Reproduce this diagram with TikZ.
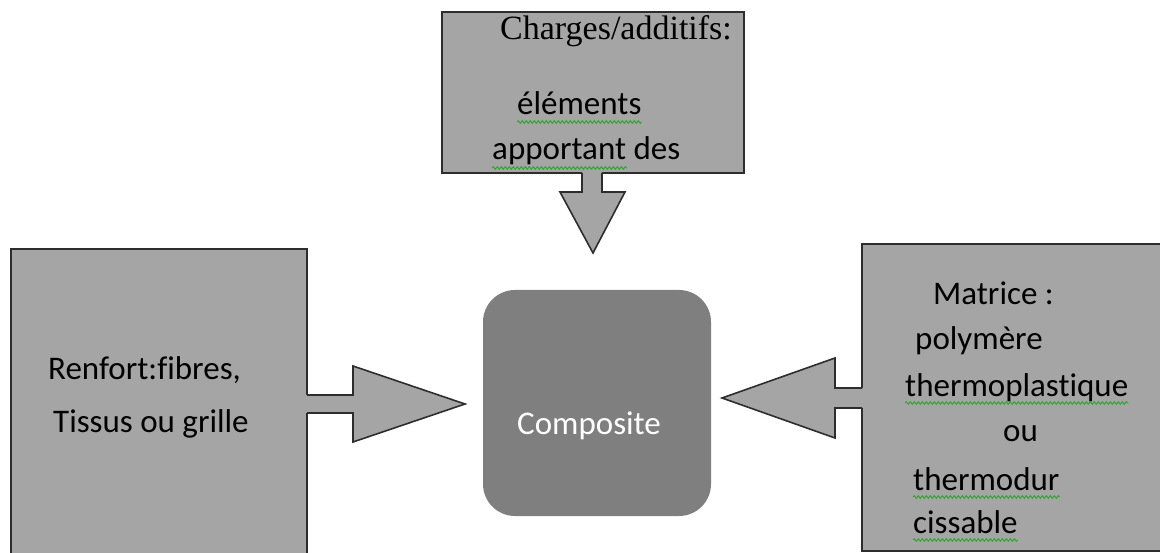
\documentclass[tikz,border=0pt]{standalone}
\usepackage{fontspec}
\setmainfont[Ligatures={NoCommon,NoContextual}]{Carlito}
\newfontfamily\timesfont{Liberation Serif}
\usetikzlibrary{decorations.pathmorphing}

\definecolor{boxgray}{RGB}{165,165,165}
\definecolor{coregray}{RGB}{127,127,127}
\definecolor{edgegray}{RGB}{45,45,45}
\definecolor{spellgreen}{RGB}{50,165,50}

\tikzset{
  panel/.style={draw=edgegray, line width=2pt, fill=boxgray, rectangle, inner sep=0pt},
  core/.style={fill=coregray, rectangle, rounded corners=32pt, inner sep=0pt},
  label/.style={anchor=base west, inner sep=0pt, font=\fontsize{33}{33}\selectfont},
  serif label/.style={anchor=base west, inner sep=0pt, font=\timesfont\fontsize{34}{34}\selectfont},
  blockfill/.style={fill=boxgray},
  blockedge/.style={draw=edgegray, line width=1.6pt, line join=miter},
  wavy/.style={draw=spellgreen, line width=1pt,
    decorate, decoration={snake, segment length=4pt, amplitude=1.3pt}}
}

\begin{document}
\begin{tikzpicture}[x=1pt, y=-1pt]
  \useasboundingbox (0,0) rectangle (1160,553);
  \clip (0,0) rectangle (1160,553);

  % the three input panels and the central result
  \node[panel, minimum width=302pt, minimum height=161pt] (charges) at (593,92.5) {};
  \node[panel, minimum width=296pt, minimum height=340pt] (renfort) at (159,419) {};
  \node[panel, minimum width=320pt, minimum height=307pt] (matrice) at (1022,397.5) {};
  \node[core, minimum width=228pt, minimum height=226pt] (composite) at (597,403) {};

  % block arrow from the top panel
  \coordinate (t1) at (582,173);
  \coordinate (t2) at (602,173);
  \coordinate (ttip) at (593,253);
  \fill[blockfill] (582,170) -- (582,192) -- (560,192) -- (ttip) -- (625,192) -- (602,192) -- (602,170) -- cycle;
  \draw[blockedge] (t1) -- (582,192) -- (560,192) -- (ttip) -- (625,192) -- (602,192) -- (t2);

  % block arrow from the left panel
  \coordinate (l1) at (307,395);
  \coordinate (l2) at (307,413);
  \coordinate (ltip) at (465,404);
  \fill[blockfill] (304,395) -- (353,395) -- (353,366) -- (ltip) -- (353,442) -- (353,413) -- (304,413) -- cycle;
  \draw[blockedge] (l1) -- (353,395) -- (353,366) -- (ltip) -- (353,442) -- (353,413) -- (l2);

  % block arrow from the right panel
  \coordinate (r1) at (862,388);
  \coordinate (r2) at (862,408);
  \coordinate (rtip) at (722,398);
  \fill[blockfill] (865,388) -- (835,388) -- (835,358) -- (rtip) -- (835,438) -- (835,408) -- (865,408) -- cycle;
  \draw[blockedge] (r1) -- (835,388) -- (835,358) -- (rtip) -- (835,438) -- (835,408) -- (r2);

  % texts
  \node[serif label, text=black] (tc1) at (500,40) {Charges/additifs:};
  \node[label] (tc2) at (517,115) {éléments};
  \node[label] (tc3) at (492,160) {apportant des};

  \node[label] (tl1) at (48,380) {Renfort:fibres,};
  \node[label] (tl2) at (53,432) {Tissus ou grille};

  \node[label] (tr1) at (933,305) {Matrice :};
  \node[label] (tr2) at (915,350) {polymère};
  \node[label] (tr3) at (905,397) {thermoplastique};
  \node[label] (tr4) at (1003,442) {ou};
  \node[label] (tr5) at (913,490) {thermodur};
  \node[label] (tr6) at (913,533) {cissable};

  \node[label, text=white] (tcore) at (517,435) {Composite};

  % green wavy underlines under the flagged words
  \draw[wavy] ([yshift=-7pt]tc2.base west) -- ([yshift=-7pt]tc2.base east);
  \draw[wavy] (492,168) -- (627,168);
  \draw[wavy] ([yshift=-6pt]tr3.base west) -- ([yshift=-6pt]tr3.base east);
  \draw[wavy] ([yshift=-7pt]tr5.base west) -- ([yshift=-7pt]tr5.base east);
  \draw[wavy] ([yshift=-7pt]tr6.base west) -- ([yshift=-7pt]tr6.base east);
\end{tikzpicture}
\end{document}
